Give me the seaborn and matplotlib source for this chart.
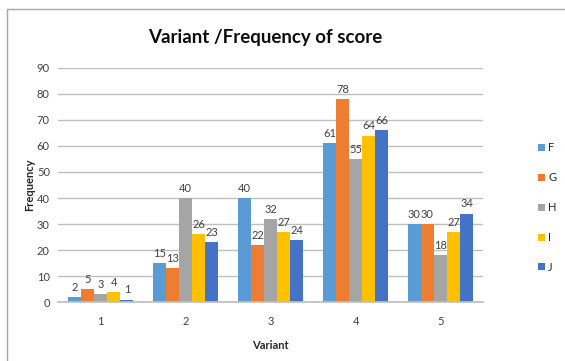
import matplotlib
matplotlib.use("Agg")
import matplotlib.pyplot as plt
import seaborn as sns
import pandas as pd
from matplotlib.patches import Patch, Rectangle

variants = ["1", "2", "3", "4", "5"]
series = ["F", "G", "H", "I", "J"]
F = [2, 15, 40, 61, 30]
G = [5, 13, 22, 78, 30]
H = [3, 40, 32, 55, 18]
I = [4, 26, 27, 64, 27]
J = [1, 23, 24, 66, 34]
colors = ["#5B9BD5", "#ED7D31", "#A5A5A5", "#FFC000", "#4472C4"]
yticks = [0, 10, 20, 30, 40, 50, 60, 70, 80, 90]

rows = []
for name, vals in zip(series, [F, G, H, I, J]):
    for v, val in zip(variants, vals):
        rows.append({"Variant": v, "Series": name, "Frequency": val})
df = pd.DataFrame(rows)

sns.set_theme(style="white")
plt.rcParams['font.family'] = ['Lato', 'DejaVu Sans']

fig = plt.figure(figsize=(5.65, 3.61), dpi=100)
ax = fig.add_axes([0.103, 0.163, 0.752, 0.649])
sns.barplot(data=df, x="Variant", y="Frequency", hue="Series", order=variants,
            hue_order=series, palette=colors, width=0.77, saturation=1,
            ax=ax, legend=False, edgecolor="none")

for cont in ax.containers:
    ax.bar_label(cont, fmt="%g", padding=3, fontsize=8, color="#404040")

ax.set_xlim(-0.5, 4.5)
ax.set_ylim(0, 90)
ax.set_yticks(yticks)
ax.yaxis.grid(True, color="#BFBFBF", linewidth=1)
ax.set_axisbelow(True)
for s in ["top", "right", "left"]:
    ax.spines[s].set_visible(False)
ax.spines["bottom"].set_color("#BFBFBF")
ax.tick_params(axis="y", length=4, color="#BFBFBF", labelsize=8, labelcolor="#404040", pad=2)
ax.tick_params(axis="x", length=0, labelsize=8, labelcolor="#404040", pad=10)
ax.set_xlabel("Variant", fontsize=8, fontweight="bold", color="#262626", labelpad=9)
ax.set_ylabel("Frequency", fontsize=8, fontweight="bold", color="#262626", labelpad=1)

fig.text(0.47, 0.895, "Variant /Frequency of score", ha="center", va="center",
         fontsize=13.5, fontweight="bold", color="#0D0D0D")

handles = [Patch(facecolor=c, edgecolor="none", label=s) for s, c in zip(series, colors)]
fig.legend(handles=handles, loc="center left", bbox_to_anchor=(0.945, 0.425),
           frameon=False, fontsize=8, handlelength=0.6, handleheight=0.6,
           handletextpad=0.3, labelspacing=1.7, borderaxespad=0)

fig.patches.append(Rectangle((7/565, -0.1), 1.2, 1 - 9/361 + 0.1, transform=fig.transFigure,
                             fill=False, edgecolor="#A6A6A6", linewidth=1))

fig.savefig("out.png", dpi=100)
